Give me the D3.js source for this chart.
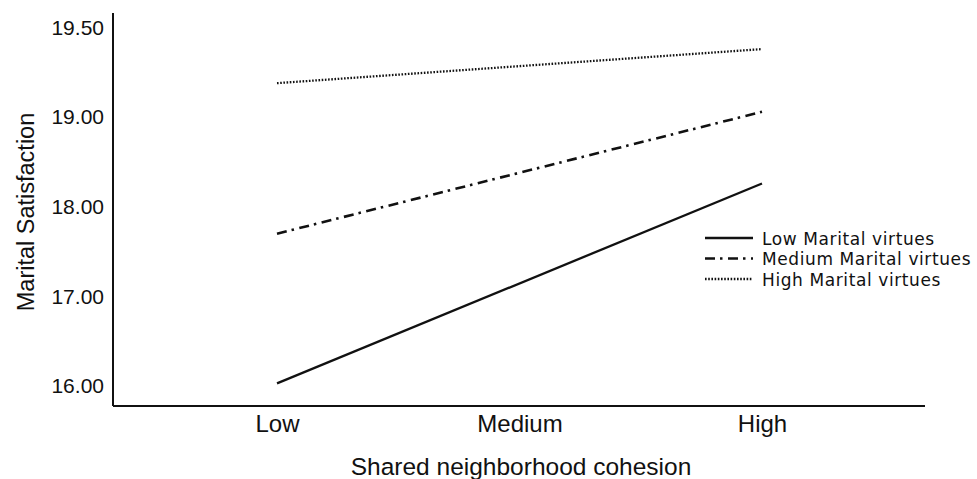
<!DOCTYPE html>
<html>
<head>
<meta charset="utf-8">
<script src="https://cdn.jsdelivr.net/npm/d3@7"></script>
<style>
  html, body { margin: 0; padding: 0; background: #fff; }
  svg { display: block; }
  text { fill: #111; }
</style>
</head>
<body>
<svg id="chart" width="977" height="479"></svg>
<script>
// Shared neighborhood cohesion levels on the x axis
const cohesionLevels = ["Low", "Medium", "High"];

// Predicted marital satisfaction for each marital-virtues group
const seriesNames = ["Low Marital virtues", "Medium Marital virtues", "High Marital virtues"];
const lowVirtues = [16.03, null, 18.26];
const mediumVirtues = [17.70, null, 19.03];
const highVirtues = [19.19, null, 19.38];

// Y tick values as printed on the axis
const yTickValues = [16, 17, 18, 19, 19.5];
const yTickLabels = ["16.00", "17.00", "18.00", "19.00", "19.50"];

const svg = d3.select("#chart");
const font = "'Liberation Sans', Arial, sans-serif";
const legendFont = "'DejaVu Sans', 'Liberation Sans', sans-serif";

const plot = { left: 113, right: 925, top: 13, bottom: 406 };

const x = d3.scalePoint()
  .domain(cohesionLevels)
  .range([277, 762]);

// Ticks are evenly spaced on the axis, so the scale is piecewise linear
const step = 89.6;
const y = d3.scaleLinear()
  .domain([16, 19, 19.5])
  .range([386, 386 - 3 * step, 386 - 4 * step]);

// Axis lines
svg.append("line")
  .attr("x1", plot.left).attr("x2", plot.left)
  .attr("y1", plot.top).attr("y2", plot.bottom)
  .attr("stroke", "#111").attr("stroke-width", 2);
svg.append("line")
  .attr("x1", plot.left).attr("x2", plot.right)
  .attr("y1", plot.bottom).attr("y2", plot.bottom)
  .attr("stroke", "#111").attr("stroke-width", 2);

// Y tick labels
const yAxis = d3.axisLeft(y)
  .tickValues(yTickValues)
  .tickFormat((d, i) => yTickLabels[i])
  .tickSize(0)
  .tickPadding(9);
const gy = svg.append("g")
  .attr("transform", `translate(${plot.left},0)`)
  .call(yAxis);
gy.select(".domain").remove();
gy.selectAll("text")
  .attr("font-family", font)
  .attr("font-size", 21)
  .attr("fill", "#111");

// X tick labels
const xAxis = d3.axisBottom(x).tickSize(0).tickPadding(9);
const gx = svg.append("g")
  .attr("transform", `translate(0,${plot.bottom})`)
  .call(xAxis);
gx.select(".domain").remove();
gx.selectAll("text")
  .attr("font-family", font)
  .attr("font-size", 24)
  .attr("fill", "#111");

// Axis titles
svg.append("text")
  .attr("x", 521).attr("y", 475)
  .attr("text-anchor", "middle")
  .attr("font-family", font)
  .attr("font-size", 24.5)
  .text("Shared neighborhood cohesion");
svg.append("text")
  .attr("transform", "translate(34,212) rotate(-90)")
  .attr("text-anchor", "middle")
  .attr("font-family", font)
  .attr("font-size", 23.5)
  .text("Marital Satisfaction");

// Line series
const styles = [
  { dash: null, width: 2.3 },
  { dash: "10,5,2.5,5.5", width: 2.6 },
  { dash: "1.6,1.6", width: 2.3 }
];
const allSeries = [lowVirtues, mediumVirtues, highVirtues];

const line = d3.line()
  .defined(d => d.v !== null)
  .x(d => x(d.k))
  .y(d => y(d.v));

allSeries.forEach((vals, i) => {
  const pts = cohesionLevels.map((k, j) => ({ k, v: vals[j] })).filter(d => d.v !== null);
  svg.append("path")
    .datum(pts)
    .attr("d", line)
    .attr("fill", "none")
    .attr("stroke", "#111")
    .attr("stroke-width", styles[i].width)
    .attr("stroke-dasharray", styles[i].dash);
});

// Legend
const legendRows = [239, 259.5, 280];
seriesNames.forEach((name, i) => {
  const g = svg.append("g").attr("transform", `translate(0,${legendRows[i]})`);
  g.append("line")
    .attr("x1", 705).attr("x2", 753)
    .attr("y1", -1).attr("y2", -1)
    .attr("stroke", "#111")
    .attr("stroke-width", styles[i].width)
    .attr("stroke-dasharray", styles[i].dash);
  g.append("text")
    .attr("x", 762).attr("y", 0)
    .attr("dy", "0.35em")
    .attr("font-family", legendFont)
    .attr("font-size", 17)
    .attr("letter-spacing", 0.6)
    .text(name);
});
</script>
</body>
</html>
